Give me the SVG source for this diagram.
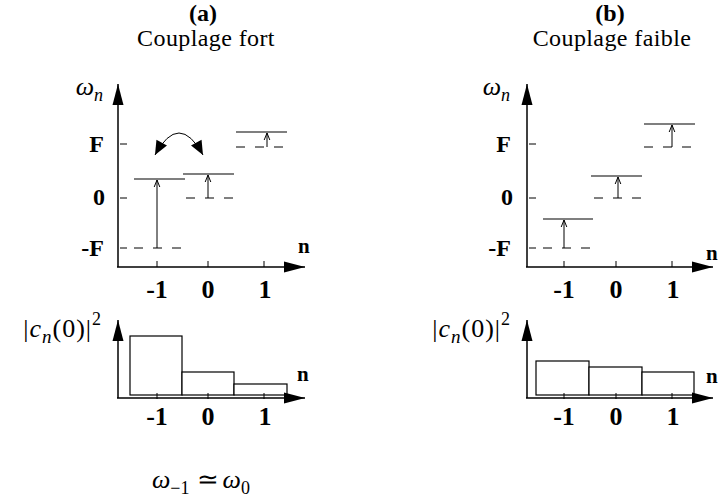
<svg xmlns="http://www.w3.org/2000/svg" width="720" height="504" viewBox="0 0 720 504">
<style>
text{font-family:"Liberation Serif","Times New Roman",serif;fill:#000}
.ttl{font-size:24px;font-weight:bold;text-anchor:middle}
.sub{font-size:24px;text-anchor:middle;letter-spacing:0.4px}
.yl{font-size:24px;font-weight:bold;text-anchor:end}
.xl{font-size:26px;font-weight:bold;text-anchor:middle}
.nl{font-size:21px;font-weight:bold}
.m{font-size:26px;font-style:italic}
.ax{stroke:#000;stroke-width:1.5;fill:none}
.tk{stroke:#000;stroke-width:1;fill:none}
.lv{stroke:#000;stroke-width:1.2;fill:none}
.ds{stroke:#000;stroke-width:1;fill:none;stroke-dasharray:9 10}
.ar{stroke:#000;stroke-width:1;fill:none}
.bar{stroke:#000;stroke-width:1.2;fill:#fff}
</style>
<defs>
<marker id="big" markerUnits="userSpaceOnUse" markerWidth="22" markerHeight="12" refX="21" refY="5.5" orient="auto" overflow="visible">
<path d="M0,0 L21,5.5 L0,11 z" fill="#000"/>
</marker>
<marker id="small" markerUnits="userSpaceOnUse" markerWidth="9" markerHeight="7" refX="7" refY="3" orient="auto" overflow="visible">
<path d="M0,0.2 L7,3 L0,5.8" fill="none" stroke="#000" stroke-width="1"/>
</marker>
<marker id="curv" markerUnits="userSpaceOnUse" markerWidth="15" markerHeight="13" refX="14" refY="6" orient="auto-start-reverse" overflow="visible">
<path d="M0,0 L14,6 L0,12 z" fill="#000"/>
</marker>
</defs>

<!-- Titles -->
<g id="title-a">
<text class="ttl" x="203" y="21">(a)</text>
<text class="sub" x="206" y="46">Couplage fort</text>
</g>
<g id="title-b">
<text class="ttl" x="610" y="21">(b)</text>
<text class="sub" x="612" y="46">Couplage faible</text>
</g>

<!-- Panel (a) top axes -->
<g id="axes-a-top">
<line class="ax" x1="118" y1="267" x2="118" y2="84" marker-end="url(#big)"/>
<line class="ax" x1="117" y1="267" x2="305" y2="267" marker-end="url(#big)"/>
<path class="tk" d="M120,144 H127 M120,198 H127 M120,248 H127 M157,261 V267 M208,261 V267 M264,261 V267"/>
<text class="m" x="103" y="95" text-anchor="end">ω<tspan font-size="18" dy="6">n</tspan></text>
<text class="yl" x="104" y="152">F</text>
<text class="yl" x="105" y="205">0</text>
<text class="yl" x="104" y="256">-F</text>
<text class="nl" x="298" y="253">n</text>
<text class="xl" x="157" y="298">-1</text>
<text class="xl" x="208" y="298">0</text>
<text class="xl" x="265" y="298">1</text>
</g>

<!-- Panel (a) levels -->
<g id="level-a-m1">
<line class="lv" x1="134" y1="179" x2="185" y2="179"/>
<line class="ds" x1="134" y1="248" x2="185" y2="248"/>
<line class="ar" x1="157" y1="248" x2="157" y2="180" marker-end="url(#small)"/>
</g>
<g id="level-a-0">
<line class="lv" x1="183" y1="174" x2="234" y2="174"/>
<line class="ds" x1="186" y1="198" x2="234" y2="198"/>
<line class="ar" x1="208" y1="198" x2="208" y2="175" marker-end="url(#small)"/>
</g>
<g id="level-a-1">
<line class="lv" x1="236" y1="132" x2="287" y2="132"/>
<line class="ds" x1="236" y1="147" x2="287" y2="147"/>
<line class="ar" x1="267" y1="147" x2="267" y2="133" marker-end="url(#small)"/>
</g>
<g id="connectors">
<path class="ar" stroke-width="1.3" d="M155,155 Q179,111 203,155" marker-start="url(#curv)" marker-end="url(#curv)"/>
</g>

<!-- Panel (b) top axes -->
<g id="axes-b-top">
<line class="ax" x1="527" y1="267" x2="527" y2="84" marker-end="url(#big)"/>
<line class="ax" x1="526" y1="267" x2="713" y2="267" marker-end="url(#big)"/>
<path class="tk" d="M529,144 H536 M529,198 H536 M529,248 H536 M564,261 V267 M616,261 V267 M672,261 V267"/>
<text class="m" x="510" y="95" text-anchor="end">ω<tspan font-size="18" dy="6">n</tspan></text>
<text class="yl" x="511" y="152">F</text>
<text class="yl" x="513" y="205">0</text>
<text class="yl" x="511" y="256">-F</text>
<text class="nl" x="706" y="260">n</text>
<text class="xl" x="564" y="298">-1</text>
<text class="xl" x="616" y="298">0</text>
<text class="xl" x="673" y="298">1</text>
</g>

<!-- Panel (b) levels -->
<g id="level-b-m1">
<line class="lv" x1="543" y1="219" x2="593" y2="219"/>
<line class="ds" x1="543" y1="248" x2="593" y2="248"/>
<line class="ar" x1="564" y1="248" x2="564" y2="220" marker-end="url(#small)"/>
</g>
<g id="level-b-0">
<line class="lv" x1="591" y1="176" x2="642" y2="176"/>
<line class="ds" x1="594" y1="198" x2="642" y2="198"/>
<line class="ar" x1="618" y1="198" x2="618" y2="177" marker-end="url(#small)"/>
</g>
<g id="level-b-1">
<line class="lv" x1="644" y1="124" x2="695" y2="124"/>
<line class="ds" x1="644" y1="147" x2="695" y2="147"/>
<line class="ar" x1="672" y1="147" x2="672" y2="125" marker-end="url(#small)"/>
</g>

<!-- Panel (a) bottom histogram -->
<g id="hist-a">
<rect class="bar" x="130" y="336" width="52" height="59"/>
<rect class="bar" x="182" y="372" width="52" height="23"/>
<rect class="bar" x="234" y="384" width="53" height="11"/>
<line class="ax" x1="118" y1="398" x2="118" y2="320" marker-end="url(#big)"/>
<line class="ax" x1="117" y1="398" x2="305" y2="398" marker-end="url(#big)"/>
<path class="tk" d="M157,393 V399 M208,393 V399 M264,393 V399"/>
<text class="m" x="102" y="337" text-anchor="end" font-size="28" letter-spacing="1"><tspan font-style="normal">|</tspan>c<tspan font-size="19" dy="6">n</tspan><tspan font-style="normal" dy="-6">(0)|</tspan><tspan font-style="normal" font-size="18" dy="-12">2</tspan></text>
<text class="nl" x="297" y="381">n</text>
<text class="xl" x="157" y="425">-1</text>
<text class="xl" x="208" y="425">0</text>
<text class="xl" x="265" y="425">1</text>
</g>

<!-- Panel (b) bottom histogram -->
<g id="hist-b">
<rect class="bar" x="536" y="361" width="53" height="34"/>
<rect class="bar" x="589" y="367" width="53" height="28"/>
<rect class="bar" x="642" y="372" width="52" height="23"/>
<line class="ax" x1="527" y1="398" x2="527" y2="320" marker-end="url(#big)"/>
<line class="ax" x1="526" y1="398" x2="713" y2="398" marker-end="url(#big)"/>
<path class="tk" d="M564,393 V399 M616,393 V399 M672,393 V399"/>
<text class="m" x="511" y="337" text-anchor="end" font-size="28" letter-spacing="1"><tspan font-style="normal">|</tspan>c<tspan font-size="19" dy="6">n</tspan><tspan font-style="normal" dy="-6">(0)|</tspan><tspan font-style="normal" font-size="18" dy="-12">2</tspan></text>
<text class="nl" x="706" y="383">n</text>
<text class="xl" x="564" y="425">-1</text>
<text class="xl" x="616" y="425">0</text>
<text class="xl" x="673" y="425">1</text>
</g>

<!-- Formula -->
<g id="formula">
<text class="m" x="152" y="488">ω<tspan font-style="normal" font-size="18" dy="6">−1</tspan><tspan font-style="normal" dx="7" dy="-6">≃</tspan><tspan dx="4">ω</tspan><tspan font-style="normal" font-size="18" dy="6">0</tspan></text>
</g>
</svg>
